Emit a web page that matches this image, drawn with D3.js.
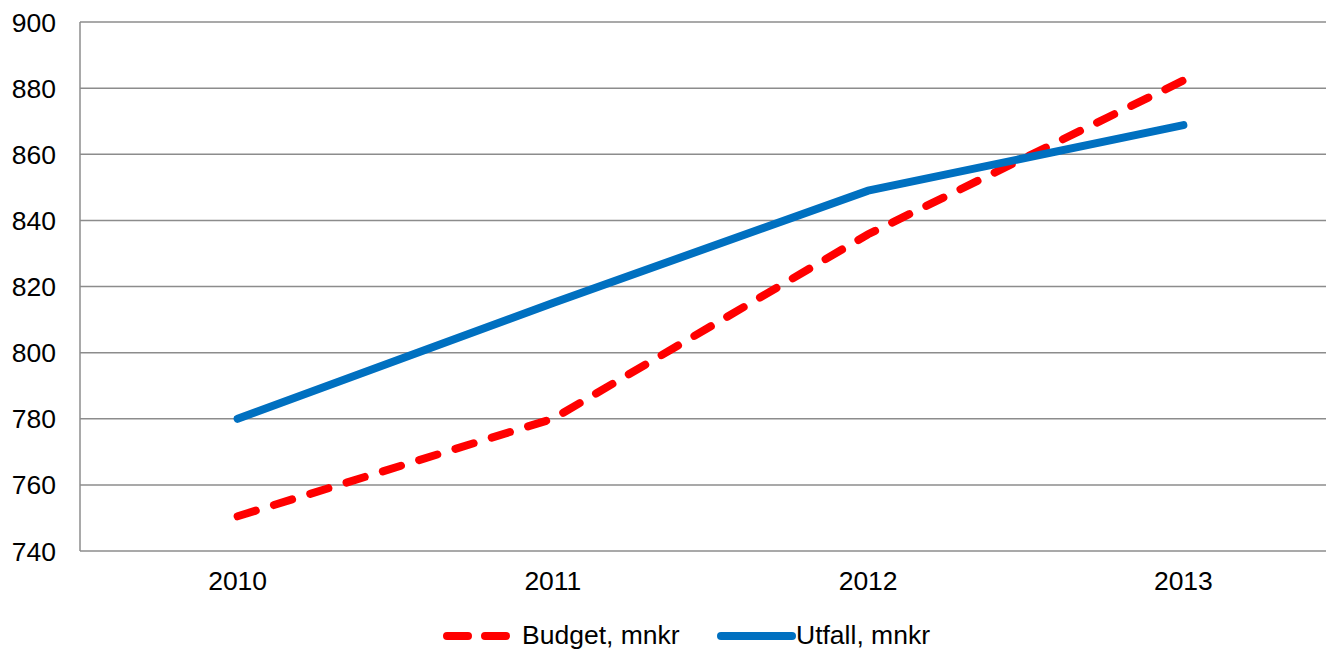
<!DOCTYPE html>
<html><head><meta charset="utf-8">
<script src="https://cdn.jsdelivr.net/npm/d3@7"></script>
<style>body{margin:0;background:#fff;}svg{display:block;font-family:"Liberation Sans",Arial,sans-serif;}</style>
</head><body><svg id="c" width="1326" height="650"></svg>
<script>
const categories = ["2010","2011","2012","2013"];
const budget = [750.5, 780, 835.8, 882.3];
const utfall = [780, 815, 849, 868.8];
const yTicks = [740,760,780,800,820,840,860,880,900];
const seriesNames = ["Budget, mnkr","Utfall, mnkr"];

const svg = d3.select("#c");
const m = {l:80, r:1341, t:22, b:551};
const x = d3.scaleBand().domain(categories).range([m.l, m.r]);
const y = d3.scaleLinear().domain([740,900]).range([m.b, m.t]);
const fs = 26.5;

const grid = svg.append("g");
grid.selectAll("line").data(yTicks).join("line")
  .attr("x1", m.l).attr("x2", m.r)
  .attr("y1", d=>y(d)).attr("y2", d=>y(d))
  .attr("stroke","#8c8c8c").attr("stroke-width",1.5);
svg.append("line").attr("x1",m.l).attr("x2",m.l).attr("y1",m.t).attr("y2",m.b)
  .attr("stroke","#8c8c8c").attr("stroke-width",1.5);

svg.append("g").selectAll("text").data(yTicks).join("text")
  .attr("x", 56).attr("y", d=>y(d)).attr("dy","0.36em")
  .attr("text-anchor","end").attr("font-size",fs).text(d=>d);

svg.append("g").selectAll("text").data(categories).join("text")
  .attr("x", d=>x(d)+x.bandwidth()/2).attr("y", 590)
  .attr("text-anchor","middle").attr("font-size",fs).text(d=>d);

const line = d3.line().x((d,i)=>x(categories[i])+x.bandwidth()/2).y(d=>y(d));
svg.append("path").datum(budget).attr("d", line).attr("fill","none")
  .attr("stroke","#ff0000").attr("stroke-width",8).attr("stroke-linecap","round")
  .attr("stroke-dasharray","19,19");
svg.append("path").datum(utfall).attr("d", line).attr("fill","none")
  .attr("stroke","#0070c0").attr("stroke-width",8).attr("stroke-linecap","round");

// legend
const lg = svg.append("g");
lg.append("line").attr("x1",447).attr("x2",506).attr("y1",636).attr("y2",636)
  .attr("stroke","#ff0000").attr("stroke-width",8).attr("stroke-linecap","round").attr("stroke-dasharray","21,17");
lg.append("text").attr("x",522).attr("y",634).attr("dy","0.36em").attr("font-size",fs).text(seriesNames[0]);
lg.append("line").attr("x1",721).attr("x2",792).attr("y1",636).attr("y2",636)
  .attr("stroke","#0070c0").attr("stroke-width",8).attr("stroke-linecap","round");
lg.append("text").attr("x",796).attr("y",634).attr("dy","0.36em").attr("font-size",fs).text(seriesNames[1]);
</script></body></html>
